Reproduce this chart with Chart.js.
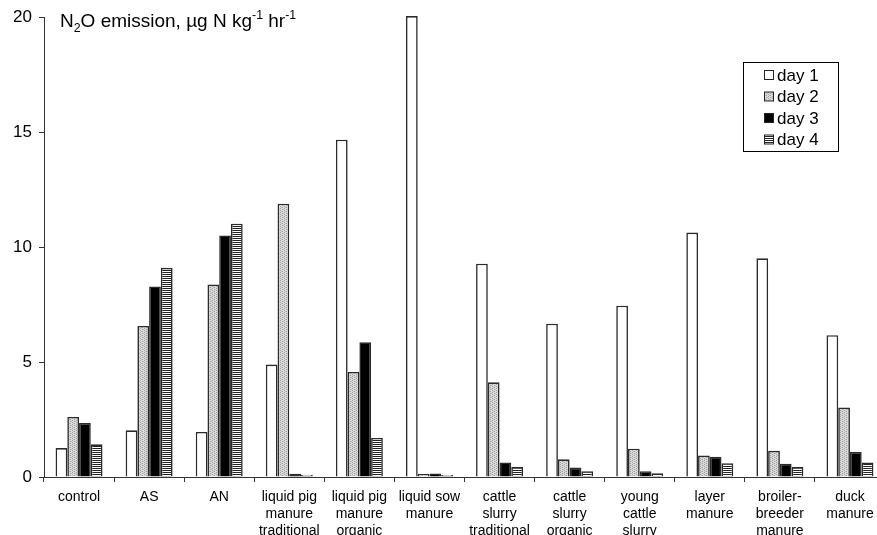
<!DOCTYPE html>
<html>
<head>
<meta charset="utf-8">
<script src="https://cdn.jsdelivr.net/npm/chart.js@4/dist/chart.umd.min.js"></script>
<style>
  html, body { margin: 0; padding: 0; background: #fff; overflow: hidden; }
  #wrap { position: relative; width: 886px; height: 535px; }
</style>
</head>
<body>
<div id="wrap"><canvas id="c"></canvas></div>
<script>
// Treatments along the x axis (multi-line labels)
const categories = [
  ["control"], ["AS"], ["AN"],
  ["liquid pig", "manure", "traditional"],
  ["liquid pig", "manure", "organic"],
  ["liquid sow", "manure"],
  ["cattle", "slurry", "traditional"],
  ["cattle", "slurry", "organic"],
  ["young", "cattle", "slurry"],
  ["layer", "manure"],
  ["broiler-", "breeder", "manure"],
  ["duck", "manure"]
];

// N2O emission per day, µg N kg-1 hr-1
const day1 = [1.26, 2.03, 1.96, 4.89, 14.67, 20.05, 9.28, 6.67, 7.45, 10.63, 9.51, 6.17];
const day2 = [2.61, 6.57, 8.37, 11.89, 4.57, 0.13, 4.12, 0.77, 1.23, 0.93, 1.14, 3.02];
const day3 = [2.35, 8.29, 10.51, 0.14, 5.86, 0.15, 0.63, 0.41, 0.25, 0.88, 0.58, 1.09];
const day4 = [1.42, 9.10, 11.02, 0.10, 1.70, 0.10, 0.44, 0.25, 0.16, 0.60, 0.44, 0.63];

const seriesLabels = ["day 1", "day 2", "day 3", "day 4"];
const yTicks = [0, 5, 10, 15, 20];

const FONT = "'Liberation Sans', Arial, Helvetica, sans-serif";

// Fill patterns for the four series
function makePattern(w, h, draw) {
  const c = document.createElement('canvas');
  c.width = w; c.height = h;
  const g = c.getContext('2d');
  draw(g);
  return g.createPattern(c, 'repeat');
}
const stipple = makePattern(4, 4, g => {
  g.fillStyle = '#dcdcdc'; g.fillRect(0, 0, 4, 4);
  g.fillStyle = '#a0a0a0';
  g.fillRect(0, 0, 1, 1); g.fillRect(0, 2, 1, 1);
  g.fillRect(2, 1, 1, 1); g.fillRect(2, 3, 1, 1);
  g.fillStyle = '#c0c0c0';
  g.fillRect(1, 3, 1, 1); g.fillRect(3, 1, 1, 1);
});
const stripes = makePattern(4, 2, g => {
  g.fillStyle = '#ffffff'; g.fillRect(0, 0, 4, 2);
  g.fillStyle = '#222222'; g.fillRect(0, 0, 4, 1);
});

const fills = ['#ffffff', stipple, '#000000', stripes];
const seriesData = [day1, day2, day3, day4];

// Axis title drawn inside the plot, with sub/superscripts
const titlePlugin = {
  id: 'unitTitle',
  afterDraw(chart) {
    const ctx = chart.ctx;
    const size = 19;
    const parts = [
      ['N', 0, 1], ['2', 5, 0.65], ['O emission, \u00b5g N kg', 0, 1],
      ['-1', -8, 0.65], [' hr', 0, 1], ['-1', -8, 0.65]
    ];
    let x = 60;
    const base = 27;
    ctx.save();
    ctx.fillStyle = '#000';
    ctx.textBaseline = 'alphabetic';
    ctx.textAlign = 'left';
    for (const [t, dy, s] of parts) {
      ctx.font = (size * s) + 'px ' + FONT;
      ctx.fillText(t, x, base + dy);
      x += ctx.measureText(t).width;
    }
    ctx.restore();
  }
};

// Boxed legend in the upper right
const legendPlugin = {
  id: 'boxLegend',
  afterDraw(chart) {
    const ctx = chart.ctx;
    const bx = 743.5, by = 62.5, bw = 95, bh = 89;
    ctx.save();
    ctx.fillStyle = '#fff';
    ctx.fillRect(bx, by, bw, bh);
    ctx.strokeStyle = '#000';
    ctx.lineWidth = 1;
    ctx.strokeRect(bx, by, bw, bh);
    ctx.font = '17px ' + FONT;
    ctx.textBaseline = 'middle';
    ctx.textAlign = 'left';
    const rows = [75, 96.5, 118, 139.5];
    chart.data.datasets.forEach((ds, i) => {
      const cy = rows[i];
      ctx.fillStyle = ds.backgroundColor;
      ctx.fillRect(764, cy - 4.5, 9, 9);
      ctx.strokeStyle = '#222';
      ctx.strokeRect(764.5, cy - 4.5, 9, 9);
      ctx.fillStyle = '#000';
      ctx.fillText(ds.label, 777, cy + 1);
    });
    ctx.restore();
  }
};

new Chart(document.getElementById('c'), {
  type: 'bar',
  data: {
    labels: categories,
    datasets: seriesLabels.map((lab, i) => ({
      label: lab,
      data: seriesData[i],
      backgroundColor: fills[i],
      borderColor: '#2b2b2b',
      borderWidth: 1.6,
      categoryPercentage: 0.67,
      barPercentage: 1.0,
      clip: false
    }))
  },
  options: {
    responsive: true,
    maintainAspectRatio: false,
    animation: false,
    layout: { padding: { top: 17, right: 1, left: 0, bottom: 0 } },
    plugins: { legend: { display: false }, tooltip: { enabled: false } },
    scales: {
      x: {
        grid: { display: true, drawOnChartArea: false, drawTicks: true, tickLength: 5, color: '#333', offset: true },
        border: { display: true, color: '#333', width: 1 },
        ticks: {
          color: '#000', padding: 7, maxRotation: 0, autoSkip: false,
          font: { family: FONT, size: 14, lineHeight: 1.19 }
        },
        afterFit(scale) { scale.height = 58; }
      },
      y: {
        min: 0, max: 20,
        grid: { display: true, drawOnChartArea: false, drawTicks: true, tickLength: 5, color: '#333' },
        border: { display: true, color: '#333', width: 1 },
        afterBuildTicks(scale) { scale.ticks = yTicks.map(v => ({ value: v })); },
        ticks: { color: '#000', padding: 7, font: { family: FONT, size: 17 } },
        afterFit(scale) { scale.width = 44; }
      }
    }
  },
  plugins: [titlePlugin, legendPlugin]
});
</script>
</body>
</html>
